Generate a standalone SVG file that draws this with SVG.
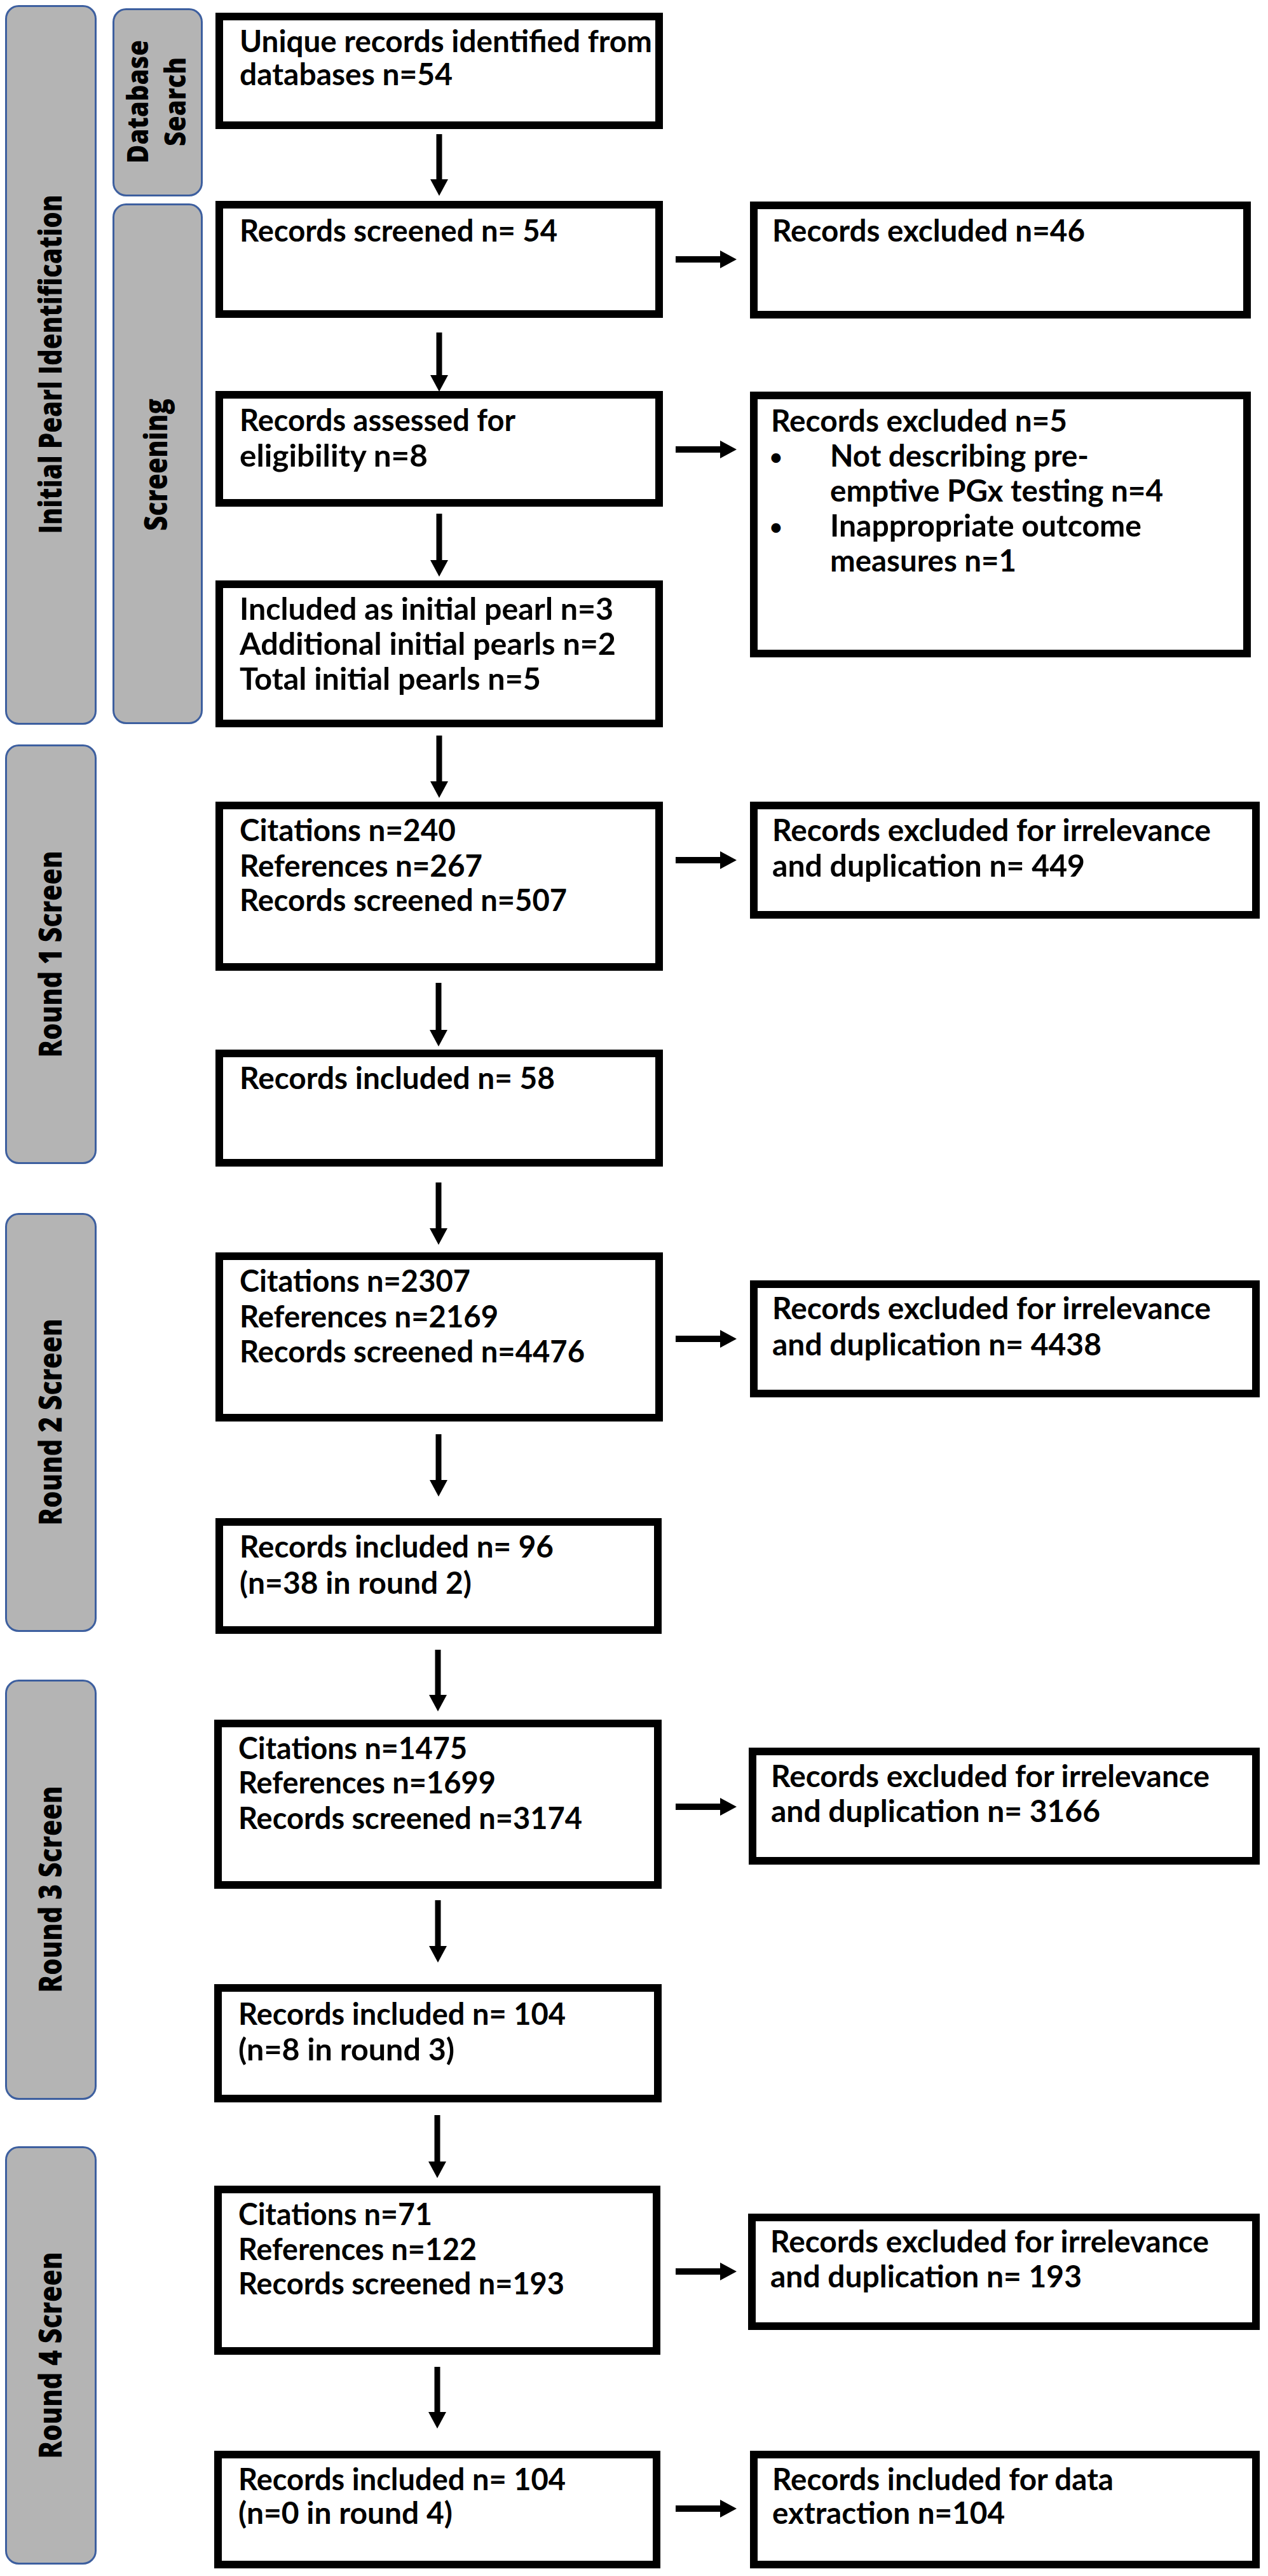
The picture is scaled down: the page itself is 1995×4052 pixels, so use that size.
<svg xmlns="http://www.w3.org/2000/svg" width="1995" height="4052" viewBox="0 0 1995 4052">
<style>
.panel{fill:#b4b4b4;stroke:#3d5f9f;stroke-width:3}
.box{fill:#ffffff;stroke:#000000;stroke-width:12}
.t{font-family:Lato,"Liberation Sans",sans-serif;font-weight:bold;font-size:48px;fill:#000}
.bu{font-family:Lato,"Liberation Sans",sans-serif;font-weight:bold;font-size:34px;fill:#000}
.pl{font-family:"Open Sans","Liberation Sans",sans-serif;font-weight:800;font-size:50px;fill:#000;text-anchor:middle}
.ar{stroke:#000;stroke-width:9;fill:none}
.ah{stroke:#000;stroke-width:10;fill:none}
</style>
<defs>
<marker id="head" markerUnits="userSpaceOnUse" markerWidth="28" markerHeight="28" refX="1" refY="14" orient="auto">
<path d="M0,0 L26,14 L0,28 Z" fill="#000"/>
</marker>
</defs>
<rect width="1995" height="4052" fill="#ffffff"/>

<g id="panel-initial">
<rect class="panel" x="9.5" y="9.5" width="141" height="1129" rx="20"/>
<text class="pl" transform="translate(97,573) rotate(-90)" textLength="533" lengthAdjust="spacingAndGlyphs">Initial Pearl Identification</text>
</g>
<g id="panel-database">
<rect class="panel" x="178.5" y="14.5" width="139" height="293" rx="20"/>
<text class="pl" style="font-size:46px" transform="translate(233,160) rotate(-90)" textLength="194" lengthAdjust="spacingAndGlyphs">Database</text>
<text class="pl" style="font-size:46px" transform="translate(292,160) rotate(-90)" textLength="140" lengthAdjust="spacingAndGlyphs">Search</text>
</g>
<g id="panel-screening">
<rect class="panel" x="178.5" y="321.5" width="139" height="816" rx="20"/>
<text class="pl" transform="translate(263,731) rotate(-90)" textLength="208" lengthAdjust="spacingAndGlyphs">Screening</text>
</g>
<g id="panel-round1">
<rect class="panel" x="9.5" y="1172.5" width="141" height="657" rx="20"/>
<text class="pl" transform="translate(97,1501) rotate(-90)" textLength="325" lengthAdjust="spacingAndGlyphs">Round 1 Screen</text>
</g>
<g id="panel-round2">
<rect class="panel" x="9.5" y="1909.5" width="141" height="656" rx="20"/>
<text class="pl" transform="translate(97,2237) rotate(-90)" textLength="325" lengthAdjust="spacingAndGlyphs">Round 2 Screen</text>
</g>
<g id="panel-round3">
<rect class="panel" x="9.5" y="2643.5" width="141" height="658" rx="20"/>
<text class="pl" transform="translate(97,2972) rotate(-90)" textLength="325" lengthAdjust="spacingAndGlyphs">Round 3 Screen</text>
</g>
<g id="panel-round4">
<rect class="panel" x="9.5" y="3377.5" width="141" height="655" rx="20"/>
<text class="pl" transform="translate(97,3705) rotate(-90)" textLength="325" lengthAdjust="spacingAndGlyphs">Round 4 Screen</text>
</g>

<g id="connectors">
<line class="ar" x1="691" y1="211" x2="691" y2="283" marker-end="url(#head)"/>
<line class="ar" x1="691" y1="523" x2="691" y2="591" marker-end="url(#head)"/>
<line class="ar" x1="691" y1="808" x2="691" y2="882" marker-end="url(#head)"/>
<line class="ar" x1="691" y1="1157" x2="691" y2="1230" marker-end="url(#head)"/>
<line class="ar" x1="690" y1="1546" x2="690" y2="1621" marker-end="url(#head)"/>
<line class="ar" x1="690" y1="1860" x2="690" y2="1933" marker-end="url(#head)"/>
<line class="ar" x1="690" y1="2256" x2="690" y2="2329" marker-end="url(#head)"/>
<line class="ar" x1="689" y1="2595" x2="689" y2="2667" marker-end="url(#head)"/>
<line class="ar" x1="689" y1="2989" x2="689" y2="3062" marker-end="url(#head)"/>
<line class="ar" x1="688" y1="3327" x2="688" y2="3401" marker-end="url(#head)"/>
<line class="ar" x1="688" y1="3723" x2="688" y2="3795" marker-end="url(#head)"/>
<line class="ah" x1="1063" y1="408" x2="1134" y2="408" marker-end="url(#head)"/>
<line class="ah" x1="1063" y1="707" x2="1134" y2="707" marker-end="url(#head)"/>
<line class="ah" x1="1063" y1="1353" x2="1134" y2="1353" marker-end="url(#head)"/>
<line class="ah" x1="1063" y1="2106" x2="1134" y2="2106" marker-end="url(#head)"/>
<line class="ah" x1="1063" y1="2842" x2="1134" y2="2842" marker-end="url(#head)"/>
<line class="ah" x1="1063" y1="3573" x2="1134" y2="3573" marker-end="url(#head)"/>
<line class="ah" x1="1063" y1="3946" x2="1134" y2="3946" marker-end="url(#head)"/>
</g>

<g id="identified">
<rect class="box" x="345" y="26" width="692" height="171"/>
<text class="t" x="377" y="82" textLength="649" lengthAdjust="spacingAndGlyphs">Unique records identified from</text>
<text class="t" x="377" y="134" textLength="335" lengthAdjust="spacingAndGlyphs">databases n=54</text>
</g>
<g id="screened">
<rect class="box" x="345" y="322" width="692" height="172"/>
<text class="t" x="377" y="380" textLength="500" lengthAdjust="spacingAndGlyphs">Records screened n= 54</text>
</g>
<g id="excluded46">
<rect class="box" x="1186" y="323" width="776" height="172"/>
<text class="t" x="1215" y="380" textLength="492" lengthAdjust="spacingAndGlyphs">Records excluded n=46</text>
</g>
<g id="assessed">
<rect class="box" x="345" y="621" width="692" height="170"/>
<text class="t" x="377" y="678" textLength="434" lengthAdjust="spacingAndGlyphs">Records assessed for</text>
<text class="t" x="377" y="734" textLength="296" lengthAdjust="spacingAndGlyphs">eligibility n=8</text>
</g>
<g id="excluded5">
<rect class="box" x="1186" y="622" width="776" height="406"/>
<text class="t" x="1213" y="679" textLength="466" lengthAdjust="spacingAndGlyphs">Records excluded n=5</text>
<text class="bu" x="1211" y="731">•</text>
<text class="t" x="1306" y="734" textLength="407" lengthAdjust="spacingAndGlyphs">Not describing pre-</text>
<text class="t" x="1306" y="789" textLength="524" lengthAdjust="spacingAndGlyphs">emptive PGx testing n=4</text>
<text class="bu" x="1211" y="841">•</text>
<text class="t" x="1306" y="844" textLength="490" lengthAdjust="spacingAndGlyphs">Inappropriate outcome</text>
<text class="t" x="1306" y="899" textLength="293" lengthAdjust="spacingAndGlyphs">measures n=1</text>
</g>
<g id="initial-pearls">
<rect class="box" x="345" y="919" width="692" height="219"/>
<text class="t" x="377" y="975" textLength="588" lengthAdjust="spacingAndGlyphs">Included as initial pearl n=3</text>
<text class="t" x="377" y="1030" textLength="592" lengthAdjust="spacingAndGlyphs">Additional initial pearls n=2</text>
<text class="t" x="377" y="1085" textLength="474" lengthAdjust="spacingAndGlyphs">Total initial pearls n=5</text>
</g>

<g id="r1-screened">
<rect class="box" x="345" y="1267" width="692" height="254"/>
<text class="t" x="377" y="1323" textLength="340" lengthAdjust="spacingAndGlyphs">Citations n=240</text>
<text class="t" x="377" y="1379" textLength="382" lengthAdjust="spacingAndGlyphs">References n=267</text>
<text class="t" x="377" y="1433" textLength="515" lengthAdjust="spacingAndGlyphs">Records screened n=507</text>
</g>
<g id="r1-excluded">
<rect class="box" x="1186" y="1267" width="790" height="172"/>
<text class="t" x="1215" y="1323" textLength="690" lengthAdjust="spacingAndGlyphs">Records excluded for irrelevance</text>
<text class="t" x="1215" y="1379" textLength="492" lengthAdjust="spacingAndGlyphs">and duplication n= 449</text>
</g>
<g id="r1-included">
<rect class="box" x="345" y="1657" width="692" height="172"/>
<text class="t" x="377" y="1713" textLength="496" lengthAdjust="spacingAndGlyphs">Records included n= 58</text>
</g>

<g id="r2-screened">
<rect class="box" x="345" y="1976" width="692" height="254"/>
<text class="t" x="377" y="2032" textLength="363" lengthAdjust="spacingAndGlyphs">Citations n=2307</text>
<text class="t" x="377" y="2088" textLength="407" lengthAdjust="spacingAndGlyphs">References n=2169</text>
<text class="t" x="377" y="2143" textLength="543" lengthAdjust="spacingAndGlyphs">Records screened n=4476</text>
</g>
<g id="r2-excluded">
<rect class="box" x="1186" y="2020" width="790" height="172"/>
<text class="t" x="1215" y="2075" textLength="690" lengthAdjust="spacingAndGlyphs">Records excluded for irrelevance</text>
<text class="t" x="1215" y="2132" textLength="518" lengthAdjust="spacingAndGlyphs">and duplication n= 4438</text>
</g>
<g id="r2-included">
<rect class="box" x="345" y="2394" width="690" height="170"/>
<text class="t" x="377" y="2450" textLength="494" lengthAdjust="spacingAndGlyphs">Records included n= 96</text>
<text class="t" x="377" y="2507" textLength="365" lengthAdjust="spacingAndGlyphs">(n=38 in round 2)</text>
</g>

<g id="r3-screened">
<rect class="box" x="343" y="2711" width="692" height="254"/>
<text class="t" x="375" y="2767" textLength="360" lengthAdjust="spacingAndGlyphs">Citations n=1475</text>
<text class="t" x="375" y="2821" textLength="405" lengthAdjust="spacingAndGlyphs">References n=1699</text>
<text class="t" x="375" y="2877" textLength="541" lengthAdjust="spacingAndGlyphs">Records screened n=3174</text>
</g>
<g id="r3-excluded">
<rect class="box" x="1184" y="2755" width="792" height="172"/>
<text class="t" x="1213" y="2811" textLength="690" lengthAdjust="spacingAndGlyphs">Records excluded for irrelevance</text>
<text class="t" x="1213" y="2866" textLength="518" lengthAdjust="spacingAndGlyphs">and duplication n= 3166</text>
</g>
<g id="r3-included">
<rect class="box" x="343" y="3127" width="692" height="174"/>
<text class="t" x="375" y="3185" textLength="515" lengthAdjust="spacingAndGlyphs">Records included n= 104</text>
<text class="t" x="375" y="3241" textLength="340" lengthAdjust="spacingAndGlyphs">(n=8 in round 3)</text>
</g>

<g id="r4-screened">
<rect class="box" x="343" y="3444" width="690" height="254"/>
<text class="t" x="375" y="3500" textLength="305" lengthAdjust="spacingAndGlyphs">Citations n=71</text>
<text class="t" x="375" y="3555" textLength="375" lengthAdjust="spacingAndGlyphs">References n=122</text>
<text class="t" x="375" y="3609" textLength="513" lengthAdjust="spacingAndGlyphs">Records screened n=193</text>
</g>
<g id="r4-excluded">
<rect class="box" x="1183" y="3488" width="793" height="171"/>
<text class="t" x="1212" y="3543" textLength="690" lengthAdjust="spacingAndGlyphs">Records excluded for irrelevance</text>
<text class="t" x="1212" y="3598" textLength="490" lengthAdjust="spacingAndGlyphs">and duplication n= 193</text>
</g>
<g id="r4-included">
<rect class="box" x="343" y="3861" width="690" height="173"/>
<text class="t" x="375" y="3917" textLength="515" lengthAdjust="spacingAndGlyphs">Records included n= 104</text>
<text class="t" x="375" y="3970" textLength="337" lengthAdjust="spacingAndGlyphs">(n=0 in round 4)</text>
</g>
<g id="data-extraction">
<rect class="box" x="1186" y="3861" width="790" height="173"/>
<text class="t" x="1215" y="3917" textLength="537" lengthAdjust="spacingAndGlyphs">Records included for data</text>
<text class="t" x="1215" y="3970" textLength="366" lengthAdjust="spacingAndGlyphs">extraction n=104</text>
</g>
</svg>
